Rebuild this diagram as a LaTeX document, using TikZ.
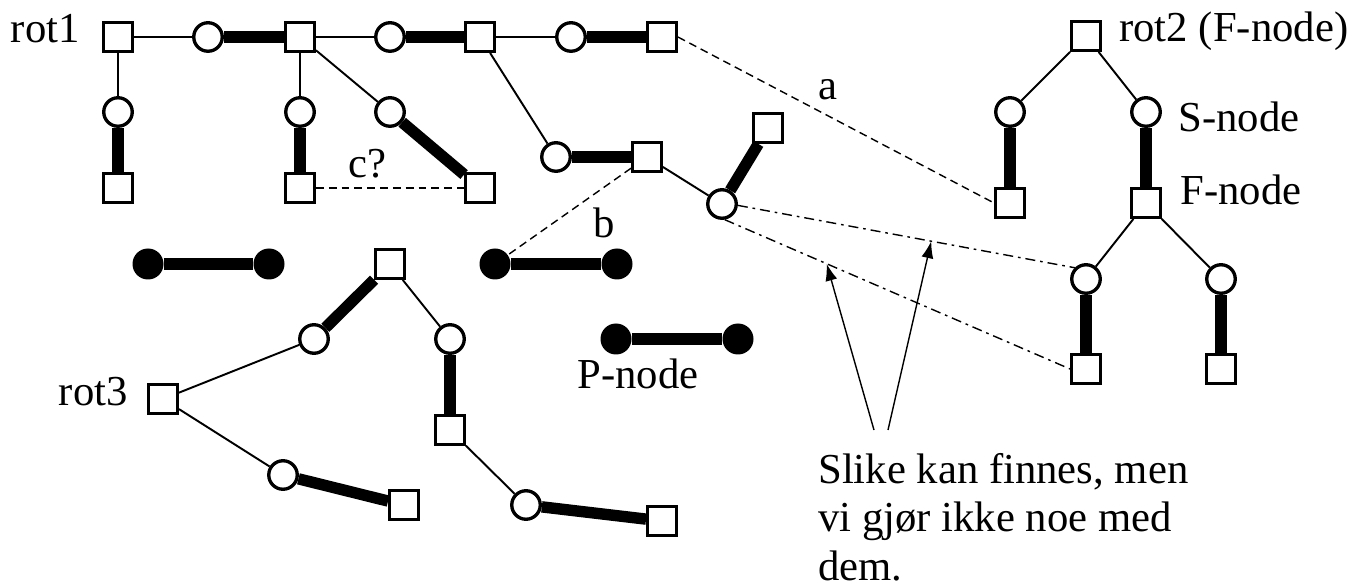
\documentclass[tikz,border=0pt]{standalone}
\usepackage{fontspec}
\setmainfont{Liberation Serif}
\usetikzlibrary{arrows.meta,backgrounds}
\tikzset{
  fnode/.style={draw, rectangle, line width=1.9pt, minimum size=5.7mm, inner sep=0pt, fill=white},
  snode/.style={draw, circle, line width=1.9pt, minimum size=5.7mm, inner sep=0pt, fill=white},
  pnode/.style={circle, fill=black, minimum size=6.2mm, inner sep=0pt},
  tr thin/.style={line width=1.1pt},
  tr thick/.style={line width=6.5pt},
  tr cand/.style={line width=0.8pt, dash pattern=on 4.5pt off 2.8pt},
  tr rest/.style={line width=0.8pt, dash pattern=on 5.7pt off 2.8pt on 1.5pt off 2.8pt},
  tr arr/.style={line width=0.8pt, -{Latex[length=3.4mm, width=2.4mm]}},
  lbl/.style={font=\fontsize{24.3}{27.6}\selectfont, inner sep=0pt},
}

\begin{document}
\begin{tikzpicture}[x=0.2mm, y=-0.2mm]
  \useasboundingbox (0,0) rectangle (1368,587);
  % tree 1
  \node[fnode] (Sa) at (118,37) {};
  \node[snode] (C1) at (208,37) {};
  \node[fnode] (Sb) at (300,37) {};
  \node[snode] (C2) at (390,37) {};
  \node[fnode] (Sc) at (480,37) {};
  \node[snode] (C3) at (571,37) {};
  \node[fnode] (Sd) at (662,37) {};
  \node[snode] (C4) at (118,112) {};
  \node[fnode] (Se) at (118,188) {};
  \node[snode] (C5) at (300,112) {};
  \node[fnode] (Sf) at (300,188) {};
  \node[snode] (C6) at (390,112) {};
  \node[fnode] (Sg) at (480,188) {};
  \node[snode] (C7) at (556,157) {};
  \node[fnode] (Sh) at (647,157) {};
  \node[snode] (C8) at (722,204) {};
  \node[fnode] (Si) at (768,128) {};
  % tree 2
  \node[fnode] (R2) at (1086,36) {};
  \node[snode] (C9) at (1010,112) {};
  \node[snode] (C10) at (1146,112) {};
  \node[fnode] (Sj) at (1010,203) {};
  \node[fnode] (Sk) at (1146,203) {};
  \node[snode] (C11) at (1086,279) {};
  \node[snode] (C12) at (1221,279) {};
  \node[fnode] (Sl) at (1086,369) {};
  \node[fnode] (Sm) at (1221,369) {};
  % tree 3
  \node[fnode] (T) at (390,264) {};
  \node[snode] (C13) at (314,339) {};
  \node[snode] (C14) at (450,339) {};
  \node[fnode] (R3) at (163,399) {};
  \node[snode] (C15) at (283,475) {};
  \node[fnode] (Sn) at (404,505) {};
  \node[fnode] (So) at (450,430) {};
  \node[snode] (C16) at (526,505) {};
  \node[fnode] (Sp) at (662,521) {};
  % loose P-nodes
  \node[pnode] (P1a) at (148,264) {};
  \node[pnode] (P1b) at (269,264) {};
  \node[pnode] (P2a) at (495,264) {};
  \node[pnode] (P2b) at (617,264) {};
  \node[pnode] (P3a) at (616,339) {};
  \node[pnode] (P3b) at (738,339) {};
  \begin{scope}[on background layer]
    \foreach \a/\b in {Sa/C1,Sb/C2,Sc/C3,Sa/C4,Sb/C5,Sb/C6,Sc/C7,Sh/C8,R2/C9,R2/C10,Sk/C11,Sk/C12,T/C14,C13/R3,R3/C15,So/C16}
      \draw[tr thin] (\a) -- (\b);
    \foreach \a/\b in {C1/Sb,C2/Sc,C3/Sd,C4/Se,C5/Sf,C6/Sg,C7/Sh,C8/Si,C9/Sj,C10/Sk,C11/Sl,C12/Sm,T/C13,C15/Sn,C14/So,C16/Sp,P1a/P1b,P2a/P2b,P3a/P3b}
      \draw[tr thick] (\a) -- (\b);
    % candidate links
    \draw[tr cand] (Sf) -- (Sg);
    \draw[tr cand] (Sd.east) -- (Sj.west);
    \draw[tr cand] (Sh) -- (P2a);
    \draw[tr rest] (C8.-5) -- coordinate[pos=0.574] (tipB) (C11.135);
    \draw[tr rest] (C8.-80) -- coordinate[pos=0.295] (tipA) (Sl.west);
  \end{scope}
  % labels
  \node[lbl, anchor=base east] (l1) at (80,43) {rot1};
  \node[lbl, anchor=base west] (l2) at (1119,42) {rot2 (F-node)};
  \node[lbl, anchor=base west] (ls) at (1178,132) {S-node};
  \node[lbl, anchor=base west] (lf) at (1180,205) {F-node};
  \node[lbl, anchor=base east] (l3) at (128,405) {rot3};
  \node[lbl, anchor=base west] (lc) at (348,178) {c?};
  \node[lbl, anchor=base west] (la) at (818,100) {a};
  \node[lbl, anchor=base west] (lb) at (593,238) {b};
  \node[lbl, anchor=base west] (lp) at (577,388) {P-node};
  \node[lbl, align=left, anchor=north west] (note) at (818,453) {Slike kan finnes, men\\vi gjør ikke noe med\\dem.};
  \coordinate (ftA) at (874,430);
  \coordinate (ftB) at (888,430);
  \draw[tr arr] (ftA) -- (tipA);
  \draw[tr arr] (ftB) -- (tipB);
\end{tikzpicture}
\end{document}
